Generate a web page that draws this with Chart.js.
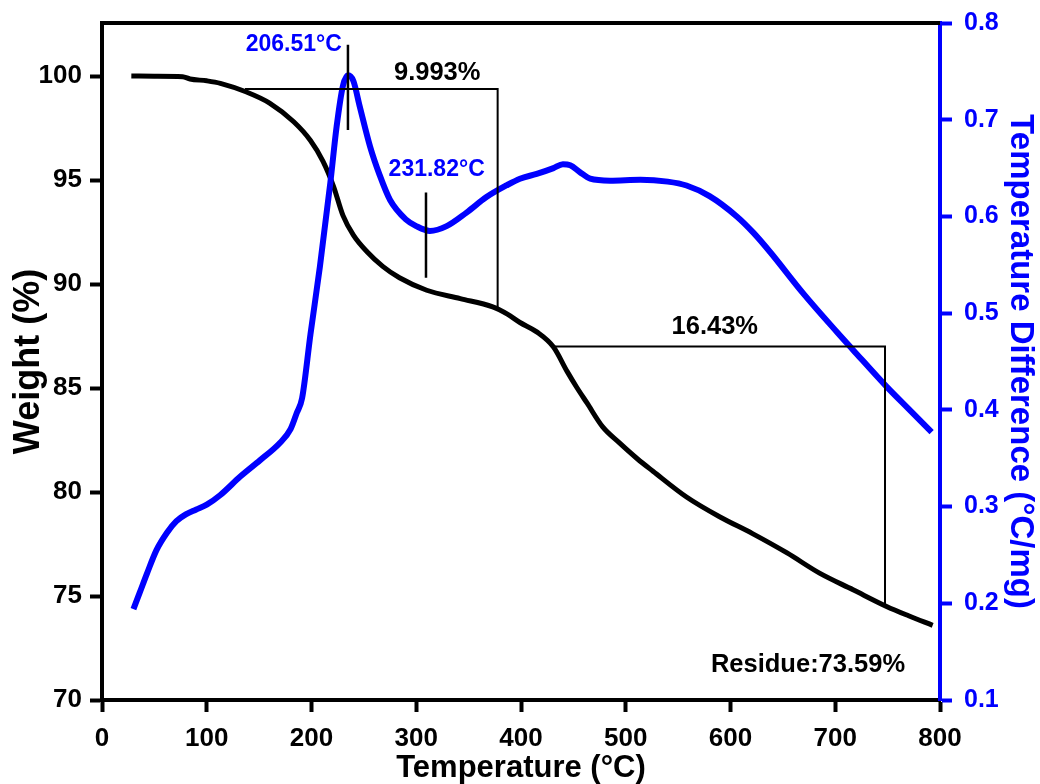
<!DOCTYPE html>
<html>
<head>
<meta charset="utf-8">
<script src="https://cdn.jsdelivr.net/npm/chart.js@4.4.1/dist/chart.umd.min.js"></script>
<style>
  html, body { margin: 0; padding: 0; background: #fff; }
  #wrap { width: 1040px; height: 784px; }
</style>
</head>
<body>
<div id="wrap"><canvas id="c" width="1040" height="784"></canvas></div>
<script>
// ---- Data ----
const tgaTemp   = [28, 50, 77, 84, 100, 113, 138, 160, 183, 199, 211, 221, 230, 240, 253, 268, 284, 310, 342, 373, 387, 399, 415, 431, 444, 453, 463, 478, 494, 511, 526, 558, 590, 621, 654, 685, 717, 749, 770, 793];
const tgaWeight = [100, 99.99, 99.97, 99.86, 99.77, 99.65, 99.23, 98.7, 97.8, 96.9, 95.9, 94.7, 93.3, 92.35, 91.55, 90.85, 90.3, 89.7, 89.3, 88.9, 88.55, 88.15, 87.7, 86.97, 85.8, 85.05, 84.28, 83.13, 82.36, 81.6, 81.0, 79.76, 78.8, 78.0, 77.07, 76.1, 75.3, 74.5, 74.05, 73.59];

const dtaTemp   = [30, 36, 43, 52, 62, 71, 80, 90, 100, 113, 132, 151, 170, 180, 186, 191, 199, 208, 218, 224, 230, 235, 240, 246, 256, 265, 275, 290, 300, 313, 329, 348, 367, 386, 399, 415, 431, 440, 447, 456, 466, 485, 514, 540, 558, 580, 606, 622, 638, 669, 702, 717, 749, 770, 792];
const dtaSignal = [0.194, 0.211, 0.231, 0.255, 0.273, 0.285, 0.292, 0.297, 0.302, 0.312, 0.331, 0.348, 0.366, 0.380, 0.397, 0.412, 0.478, 0.548, 0.635, 0.693, 0.735, 0.746, 0.740, 0.714, 0.672, 0.643, 0.617, 0.597, 0.590, 0.585, 0.590, 0.604, 0.620, 0.632, 0.639, 0.644, 0.650, 0.654, 0.653, 0.646, 0.639, 0.637, 0.638, 0.636, 0.632, 0.621, 0.600, 0.583, 0.563, 0.521, 0.480, 0.462, 0.424, 0.401, 0.377];

// annotation brackets / markers (temperature, weight %)
const step1Temp   = [136.5, 377.7, 377.7];
const step1Weight = [99.38, 99.38, 88.9];
const step2Temp   = [430.5, 747.5, 747.5];
const step2Weight = [87.0, 87.0, 74.47];
const peakMarkTemp   = [234.8, 234.8];
const peakMarkWeight = [101.5, 97.4];
const minMarkTemp    = [309.3, 309.3];
const minMarkWeight  = [94.4, 90.3];

// text labels (temperature, weight %)
const labelTexts  = ['9.993%', '16.43%', '206.51°C', '231.82°C', 'Residue:73.59%'];
const labelTemp   = [320, 585, 229, 319.5, 674];
const labelWeight = [100.14, 87.93, 101.5, 95.48, 71.68];
const labelColors = ['#000000', '#000000', '#0000ff', '#0000ff', '#000000'];
const labelAlign  = ['center', 'center', 'right', 'center', 'center'];
const labelSizes  = [25.5, 25.5, 23, 23, 25.5];

// ticks
const xTicks      = [0, 100, 200, 300, 400, 500, 600, 700, 800];
const weightTicks = [70, 75, 80, 85, 90, 95, 100];
const dtaTicks    = [0.1, 0.2, 0.3, 0.4, 0.5, 0.6, 0.7, 0.8];

// ---- helpers ----
const zip = (xs, ys) => xs.map((x, i) => ({ x: x, y: ys[i] }));
const FONT = '"Liberation Sans", Arial, sans-serif';
const BLUE = '#0000ff';

const frameAndLabels = {
  id: 'frameAndLabels',
  afterDraw(chart) {
    const ctx = chart.ctx;
    const a = chart.chartArea;
    const xs = chart.scales.x, ys = chart.scales.y;
    ctx.save();
    // top frame line
    ctx.strokeStyle = '#000';
    ctx.lineWidth = 4;
    ctx.beginPath();
    ctx.moveTo(a.left - 2, a.top);
    ctx.lineTo(a.right, a.top);
    ctx.stroke();
    // text labels
    ctx.textBaseline = 'middle';
    labelTexts.forEach((t, i) => {
      ctx.font = 'bold ' + labelSizes[i] + 'px ' + FONT;
      ctx.fillStyle = labelColors[i];
      ctx.textAlign = labelAlign[i];
      ctx.fillText(t, xs.getPixelForValue(labelTemp[i]), ys.getPixelForValue(labelWeight[i]));
    });
    ctx.restore();
  }
};

const setTicks = (arr) => (scale) => { scale.ticks = arr.map(v => ({ value: v })); };
const fitVertical = (w) => (s) => { s.width = w; s.paddingTop = 10; s.paddingBottom = 10; };

new Chart(document.getElementById('c'), {
  type: 'line',
  data: {
    datasets: [
      { label: 'step1', data: zip(step1Temp, step1Weight), yAxisID: 'y', borderColor: '#000', borderWidth: 2, tension: 0, pointRadius: 0, order: 0 },
      { label: 'step2', data: zip(step2Temp, step2Weight), yAxisID: 'y', borderColor: '#000', borderWidth: 2, tension: 0, pointRadius: 0, order: 0 },
      { label: 'peak', data: zip(peakMarkTemp, peakMarkWeight), yAxisID: 'y', borderColor: '#000', borderWidth: 2.5, tension: 0, pointRadius: 0, order: 0 },
      { label: 'min', data: zip(minMarkTemp, minMarkWeight), yAxisID: 'y', borderColor: '#000', borderWidth: 2.5, tension: 0, pointRadius: 0, order: 0 },
      { label: 'DTA', data: zip(dtaTemp, dtaSignal), yAxisID: 'y2', borderColor: BLUE, borderWidth: 6, cubicInterpolationMode: 'monotone', pointRadius: 0, order: 1, borderCapStyle: 'butt' },
      { label: 'TGA', data: zip(tgaTemp, tgaWeight), yAxisID: 'y', borderColor: '#000', borderWidth: 5, cubicInterpolationMode: 'monotone', pointRadius: 0, order: 2 }
    ]
  },
  options: {
    responsive: false,
    animation: false,
    events: [],
    layout: { padding: { top: 23, left: 0, right: 0, bottom: 0 } },
    plugins: { legend: { display: false }, tooltip: { enabled: false } },
    scales: {
      x: {
        type: 'linear', min: 0, max: 800,
        afterBuildTicks: setTicks(xTicks),
        afterFit: (s) => { s.height = 84; },
        border: { display: true, color: '#000', width: 4 },
        grid: { display: true, drawOnChartArea: false, drawTicks: true, tickLength: 12, tickWidth: 4, tickColor: '#000' },
        ticks: { color: '#000', font: { family: FONT, size: 26, weight: 'bold' }, padding: 11, maxRotation: 0 },
        title: { display: true, text: 'Temperature (°C)', color: '#000', font: { family: FONT, size: 31, weight: 'bold' }, padding: { top: 0, bottom: -3 } }
      },
      y: {
        type: 'linear', position: 'left', min: 70, max: 102.55,
        afterBuildTicks: setTicks(weightTicks),
        afterFit: fitVertical(102),
        border: { display: true, color: '#000', width: 4 },
        grid: { display: true, drawOnChartArea: false, drawTicks: true, tickLength: 12, tickWidth: 4, tickColor: '#000' },
        ticks: { color: '#000', font: { family: FONT, size: 26, weight: 'bold' }, padding: 8 },
        title: { display: true, text: 'Weight (%)', color: '#000', font: { family: FONT, size: 36, weight: 'bold' }, padding: { top: 7, bottom: 0 } }
      },
      y2: {
        type: 'linear', position: 'right', min: 0.1, max: 0.8,
        afterBuildTicks: setTicks(dtaTicks),
        afterFit: fitVertical(100),
        border: { display: true, color: BLUE, width: 4 },
        grid: { display: true, drawOnChartArea: false, drawTicks: true, tickLength: 12, tickWidth: 4, tickColor: BLUE },
        ticks: { color: BLUE, font: { family: FONT, size: 25, weight: 'bold' }, padding: 12, callback: (v) => Number(v).toFixed(1) },
        title: { display: true, text: 'Temperature Difference (°C/mg)', color: BLUE, font: { family: FONT, size: 33, weight: 'bold' }, padding: { top: 0, bottom: 0 } }
      }
    }
  },
  plugins: [frameAndLabels]
});
</script>
</body>
</html>
